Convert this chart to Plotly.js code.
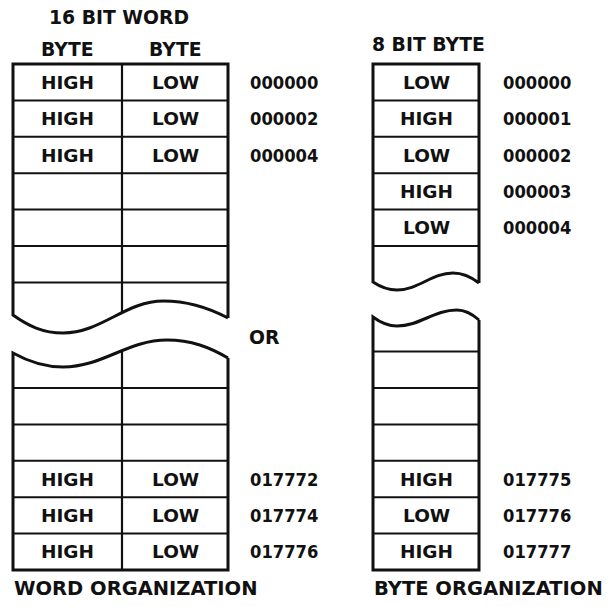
<!DOCTYPE html>
<html>
<head>
<meta charset="utf-8">
<script src="https://cdn.plot.ly/plotly-3.0.1.min.js"></script>
<style>html,body{margin:0;padding:0;background:#fff;}#chart{width:611px;height:607px;}</style>
</head>
<body>
<div id="chart"></div>
<script>
// ---------- data ----------
const wordTitle = '16 BIT WORD';
const wordColumnHeaders = ['BYTE', 'BYTE'];
const wordTopHigh = ['HIGH', 'HIGH', 'HIGH'];
const wordTopLow = ['LOW', 'LOW', 'LOW'];
const wordTopAddr = ['000000', '000002', '000004'];
const wordBottomHigh = ['HIGH', 'HIGH', 'HIGH'];
const wordBottomLow = ['LOW', 'LOW', 'LOW'];
const wordBottomAddr = ['017772', '017774', '017776'];
const wordTopBlankRows = 3;
const wordBottomBlankRows = 2;

const byteTitle = '8 BIT BYTE';
const byteTopCells = ['LOW', 'HIGH', 'LOW', 'HIGH', 'LOW'];
const byteTopAddr = ['000000', '000001', '000002', '000003', '000004'];
const byteBottomCells = ['HIGH', 'LOW', 'HIGH'];
const byteBottomAddr = ['017775', '017776', '017777'];
const byteTopBlankRows = 0;
const byteBottomBlankRows = 3;

const separatorText = 'OR';
const captions = ['WORD ORGANIZATION', 'BYTE ORGANIZATION'];

// ---------- geometry (layout only) ----------
const G = {
  topY: 64, bottomY: 570, rowH: 36.4,
  word: { x0: 13, xm: 122, x1: 228, addrX: 248 },
  byte: { x0: 373, x1: 479, addrX: 501 }
};
const ink = '#111111';
const FAM = 'DejaVu Sans, Verdana, sans-serif';
const FAM_ADDR = 'DejaVu Sans Condensed, DejaVu Sans, sans-serif';
function F(size, fam) { return { family: fam || FAM, size: size, color: ink, weight: 'bold' }; }
const SZ = { title: 18.8, cell: 18.5, addr: 18.2, caption: 19.5 };

function waveSegs(x0, x1, yS, yMin, yMax, yE, fMin, fMax) {
  const xm = x0 + (x1 - x0) * fMin, xM = x0 + (x1 - x0) * fMax;
  return [
    [[x0, yS], [x0 + (xm - x0) * 0.3, yS + (yMin - yS) * 0.6], [xm - (xm - x0) * 0.4, yMin], [xm, yMin]],
    [[xm, yMin], [xm + (xM - xm) * 0.38, yMin], [xM - (xM - xm) * 0.38, yMax], [xM, yMax]],
    [[xM, yMax], [xM + (x1 - xM) * 0.4, yMax], [x1 - (x1 - xM) * 0.3, yE - (yE - yMax) * 0.6], [x1, yE]]
  ];
}
function segPath(segs) {
  return segs.map(s => `C${s[1][0]},${s[1][1]} ${s[2][0]},${s[2][1]} ${s[3][0]},${s[3][1]}`).join(' ');
}
function bez(s, t) {
  const u = 1 - t;
  return [0, 1].map(k => u*u*u*s[0][k] + 3*u*u*t*s[1][k] + 3*u*t*t*s[2][k] + t*t*t*s[3][k]);
}
function waveYAt(segs, x) {
  for (const s of segs) {
    if (x >= s[0][0] && x <= s[3][0]) {
      let lo = 0, hi = 1;
      for (let i = 0; i < 40; i++) { const m = (lo + hi) / 2; if (bez(s, m)[0] < x) lo = m; else hi = m; }
      return bez(s, lo)[1];
    }
  }
  return null;
}

const shapes = [];
const annotations = [];
function line(x0, y0, x1, y1, w) {
  shapes.push({ type: 'line', xref: 'x', yref: 'y', x0, y0, x1, y1, line: { color: ink, width: w } });
}
function text(t, x, y, size, xanchor, fam) {
  annotations.push({ text: t, x, y, xref: 'x', yref: 'y', xanchor: xanchor || 'center', yanchor: 'middle', showarrow: false, font: F(size, fam) });
}

// ---- word organization ----
const W = G.word;
const wordTopRows = wordTopHigh.length + wordTopBlankRows;
const wTopWave = waveSegs(W.x0, W.x1, 315, 333, 301, 318, 0.233, 0.70);
shapes.push({ type: 'path', xref: 'x', yref: 'y',
  path: `M${W.x1},318 L${W.x1},${G.topY} L${W.x0},${G.topY} L${W.x0},315 ` + segPath(wTopWave),
  line: { color: ink, width: 3 }, fillcolor: 'rgba(0,0,0,0)' });
for (let i = 1; i <= wordTopRows; i++) line(W.x0, G.topY + i * G.rowH, W.x1, G.topY + i * G.rowH, 2);
line(W.xm, G.topY, W.xm, waveYAt(wTopWave, W.xm), 2.2);

const wordBotRows = wordBottomHigh.length + wordBottomBlankRows;
const wBotWave = waveSegs(W.x0, W.x1, 353, 367, 340, 358, 0.233, 0.716);
shapes.push({ type: 'path', xref: 'x', yref: 'y',
  path: `M${W.x1},358 L${W.x1},${G.bottomY} L${W.x0},${G.bottomY} L${W.x0},353 ` + segPath(wBotWave),
  line: { color: ink, width: 3 }, fillcolor: 'rgba(0,0,0,0)' });
for (let i = 1; i <= wordBotRows; i++) line(W.x0, G.bottomY - i * G.rowH, W.x1, G.bottomY - i * G.rowH, 2);
line(W.xm, waveYAt(wBotWave, W.xm), W.xm, G.bottomY, 2.2);

const wcH = (W.x0 + W.xm) / 2, wcL = (W.xm + W.x1) / 2;
text(wordTitle, 119, 17, SZ.title);
text(wordColumnHeaders[0], wcH - 0.5, 49, SZ.title);
text(wordColumnHeaders[1], wcL + 0.5, 49, SZ.title);
wordTopHigh.forEach((t, i) => {
  const y = G.topY + (i + 0.5) * G.rowH;
  text(t, wcH, y, SZ.cell); text(wordTopLow[i], wcL, y, SZ.cell); text(wordTopAddr[i], W.addrX, y, SZ.addr, 'left', FAM_ADDR);
});
wordBottomHigh.forEach((t, i) => {
  const y = G.bottomY - (wordBottomHigh.length - i - 0.5) * G.rowH;
  text(t, wcH, y, SZ.cell); text(wordBottomLow[i], wcL, y, SZ.cell); text(wordBottomAddr[i], W.addrX, y, SZ.addr, 'left', FAM_ADDR);
});

// ---- byte organization ----
const B = G.byte;
const byteTopRows = byteTopCells.length + byteTopBlankRows;
const bTopWave = waveSegs(B.x0, B.x1, 282, 290, 273, 283, 0.226, 0.755);
shapes.push({ type: 'path', xref: 'x', yref: 'y',
  path: `M${B.x1},283 L${B.x1},${G.topY} L${B.x0},${G.topY} L${B.x0},282 ` + segPath(bTopWave),
  line: { color: ink, width: 3 }, fillcolor: 'rgba(0,0,0,0)' });
for (let i = 1; i <= byteTopRows; i++) line(B.x0, G.topY + i * G.rowH, B.x1, G.topY + i * G.rowH, 2);

const byteBotRows = byteBottomCells.length + byteBottomBlankRows;
const bBotWave = waveSegs(B.x0, B.x1, 317, 326, 310, 320, 0.226, 0.79);
shapes.push({ type: 'path', xref: 'x', yref: 'y',
  path: `M${B.x1},320 L${B.x1},${G.bottomY} L${B.x0},${G.bottomY} L${B.x0},317 ` + segPath(bBotWave),
  line: { color: ink, width: 3 }, fillcolor: 'rgba(0,0,0,0)' });
for (let i = 1; i <= byteBotRows; i++) line(B.x0, G.bottomY - i * G.rowH, B.x1, G.bottomY - i * G.rowH, 2);

const bc = (B.x0 + B.x1) / 2;
text(byteTitle, 428, 44, SZ.title);
byteTopCells.forEach((t, i) => {
  const y = G.topY + (i + 0.5) * G.rowH;
  text(t, bc, y, SZ.cell); text(byteTopAddr[i], B.addrX, y, SZ.addr, 'left', FAM_ADDR);
});
byteBottomCells.forEach((t, i) => {
  const y = G.bottomY - (byteBottomCells.length - i - 0.5) * G.rowH;
  text(t, bc, y, SZ.cell); text(byteBottomAddr[i], B.addrX, y, SZ.addr, 'left', FAM_ADDR);
});

text(separatorText, 247, 337, SZ.title, 'left');
text(captions[0], 12, 588, SZ.caption, 'left');
text(captions[1], 372, 588, SZ.caption, 'left');

const data = [{ x: [0, 611], y: [0, 607], mode: 'markers', marker: { opacity: 0 }, hoverinfo: 'skip', showlegend: false }];
const layout = {
  width: 611, height: 607,
  margin: { l: 0, r: 0, t: 0, b: 0 },
  paper_bgcolor: '#ffffff', plot_bgcolor: '#ffffff',
  xaxis: { range: [0, 611], visible: false, fixedrange: true },
  yaxis: { range: [607, 0], visible: false, fixedrange: true },
  shapes, annotations, showlegend: false
};
Plotly.newPlot('chart', data, layout, { displayModeBar: false, staticPlot: true });
</script>
</body>
</html>
